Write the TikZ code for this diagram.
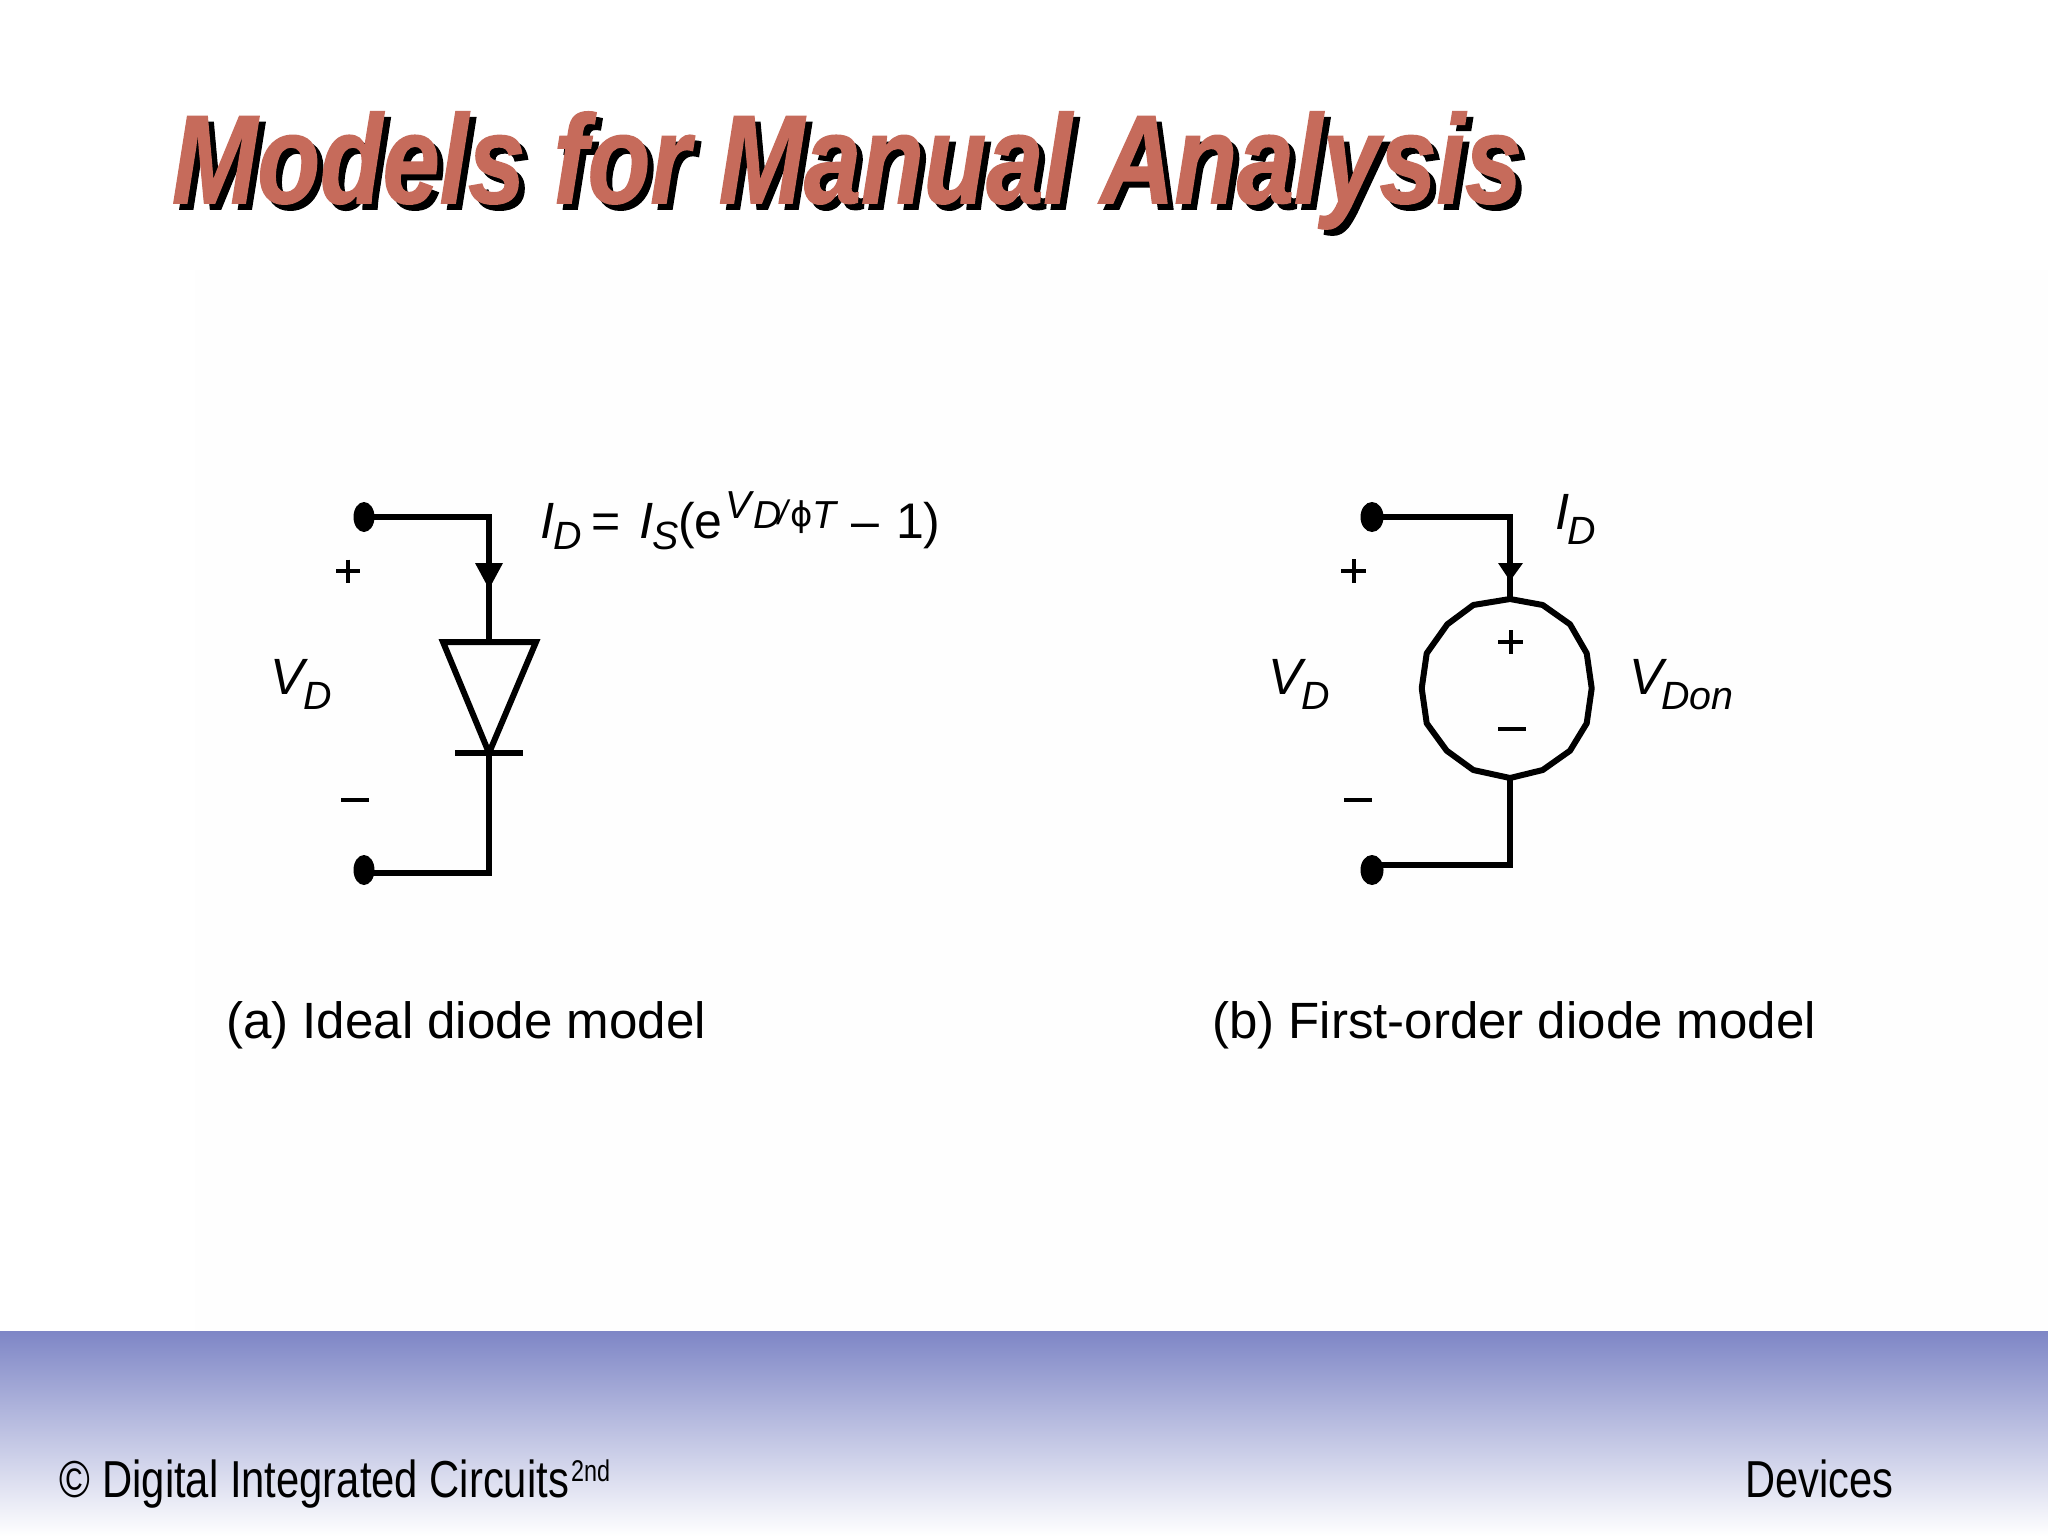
\documentclass[tikz,border=0pt]{standalone}
\usepackage{fontspec}
\setmainfont{Liberation Sans}
\newfontfamily\symf{DejaVu Sans}
\newfontfamily\titlef[FakeBold=1.2]{Liberation Sans}
\usetikzlibrary{shapes.geometric}
\definecolor{titlecol}{HTML}{C66B5B}
\definecolor{bandtop}{HTML}{7E86C6}
\definecolor{bandbot}{HTML}{FFFFFF}
\newcommand\fitw[2]{\resizebox{#1pt}{\height}{#2}}
\newcommand\fsz[1]{\fontsize{#1pt}{#1pt}\selectfont}
\tikzset{
  x=0.5pt,y=-0.5pt,
  txt/.style={anchor=base west,inner sep=0pt,outer sep=0pt,font=\fsz{25}},
  main/.style={txt,font=\fsz{25.5}\itshape},
  subs/.style={txt,font=\fsz{19.7}\itshape},
  suptext/.style={txt,font=\fsz{19.5}\itshape},
  upright/.style={txt,font=\fsz{25}},
  signline/.style={line width=2pt,line cap=butt},
  wire/.style={line width=3pt,line join=miter},
  term/.style={ellipse,fill=black,draw=none,inner sep=0pt,minimum width=10.5pt,minimum height=15pt},
  headtri/.style={fill=black,draw=none},
  captext/.style={txt,font=\fsz{25.5}},
  foottext/.style={txt,font=\fsz{26}},
  titletext/.style={txt,font=\fsz{63}\titlef\bfseries\itshape},
}
\begin{document}
\begin{tikzpicture}
\useasboundingbox (0,0) rectangle (2048,1536);
\fill[white] (0,0) rectangle (2048,1536);
\fill[white!99.6!black] (195,270) rectangle (2048,1338);
% band
\shade[top color=bandtop,bottom color=bandbot] (0,1331) rectangle (2048,1536);
% title
\node[titletext,text=black] (titleshadow) at (178,209) {\fitw{675}{Models for Manual Analysis}};
\node[titletext,text=titlecol] (title) at (172,203) {\fitw{675}{Models for Manual Analysis}};

% --- circuit (a)
\node[term] (a1) at (364,517) {};
\node[term] (a2) at (364,870) {};
\coordinate (aC1) at (489,517);
\coordinate (aC2) at (489,873);
\coordinate (aAn) at (489,642);
\coordinate (aCa) at (489,753);
\coordinate (aE) at (370,873);
\draw[wire] (a1.center) -- (aC1) -- (aAn);
\draw[wire] (aCa) -- (aC2) -- (aE);
\draw[wire] (443,642) -- (536,642) -- (aCa) -- cycle;
\draw[wire] (455,753) -- (523,753);
\fill[headtri] (475,563) -- (503,563) -- (489,589) -- cycle;
\draw[signline] (336,571) -- (360,571) (348,559.5) -- (348,582.5);
\draw[signline] (341,800) -- (369,800);
\node[main] (aV) at (270,694) {V};
\node[subs] (aVs) at (303,709) {D};
% formula
\node[main] (f1) at (540,538) {I};
\node[subs] (f2) at (553,549) {D};
\node[upright] (f3) at (591,538) {=};
\node[main] (f4) at (639,538) {I};
\node[subs] (f5) at (652,549) {S};
\node[upright] (f6) at (678,538) {(e};
\node[suptext] (f7) at (725,518) {V};
\node[suptext] (f8) at (753,528) {D};
\node[txt,font=\fsz{17}\itshape] (f8b) at (778,524) {/};
\node[txt,font=\fsz{17}\symf] (f9) at (790,526) {ϕ};
\node[suptext] (f10) at (812,528) {T};
\node[upright] (f11) at (851,538) {–};
\node[upright] (f12) at (896,538) {1)};
\node[captext] (capa) at (226,1038) {\fitw{240}{(a) Ideal diode model}};

% --- circuit (b)
\node[term,minimum width=11.5pt] (b1) at (1372,517) {};
\node[term,minimum width=11.5pt] (b2) at (1372,870) {};
\coordinate (bC1) at (1510,517);
\coordinate (bC2) at (1510,865);
\coordinate (bT) at (1510,599);
\coordinate (bB) at (1510,778);
\coordinate (bE) at (1380,865);
\draw[wire] (b1.center) -- (bC1) -- (bT);
\draw[wire] (bB) -- (bC2) -- (bE);
\draw[wire,line join=round] (bT) -- (1542.7,605) -- (1570,624.3) -- (1586.7,653.3) -- (1591.7,688.3) -- (1586.7,723.3) -- (1570,750.7) -- (1542.7,770) -- (bB) -- (1473.3,770) -- (1446.7,750.7) -- (1426.7,723.3) -- (1421.7,688.3) -- (1426.7,653.3) -- (1447.3,624.3) -- (1473.3,605) -- cycle;
\fill[headtri] (1498,563) -- (1523,563) -- (1510,581) -- cycle;
\draw[signline] (1341,571) -- (1366,571) (1353.5,559) -- (1353.5,583);
\draw[signline] (1344,800) -- (1372,800);
\draw[signline] (1498,642) -- (1523,642) (1510.5,630) -- (1510.5,654);
\draw[signline] (1498,729) -- (1526,729);
\node[main] (bV) at (1268,694) {V};
\node[subs] (bVs) at (1301,709) {D};
\node[main] (bVo) at (1629,694) {V};
\node[subs] (bVos) at (1661,709) {Don};
\node[main] (bI) at (1555,529) {I};
\node[subs] (bIs) at (1567,544) {D};
\node[captext] (capb) at (1212,1038) {\fitw{302}{(b) First-order diode model}};

% footer
\node[foottext] (foota) at (60,1497) {\fitw{254.5}{© Digital Integrated Circuits}};
\node[txt,font=\fsz{15}] (footb) at (571,1481) {\fitw{19.5}{2nd}};
\node[foottext] (footc) at (1745,1497) {\fitw{74}{Devices}};
\end{tikzpicture}
\end{document}
